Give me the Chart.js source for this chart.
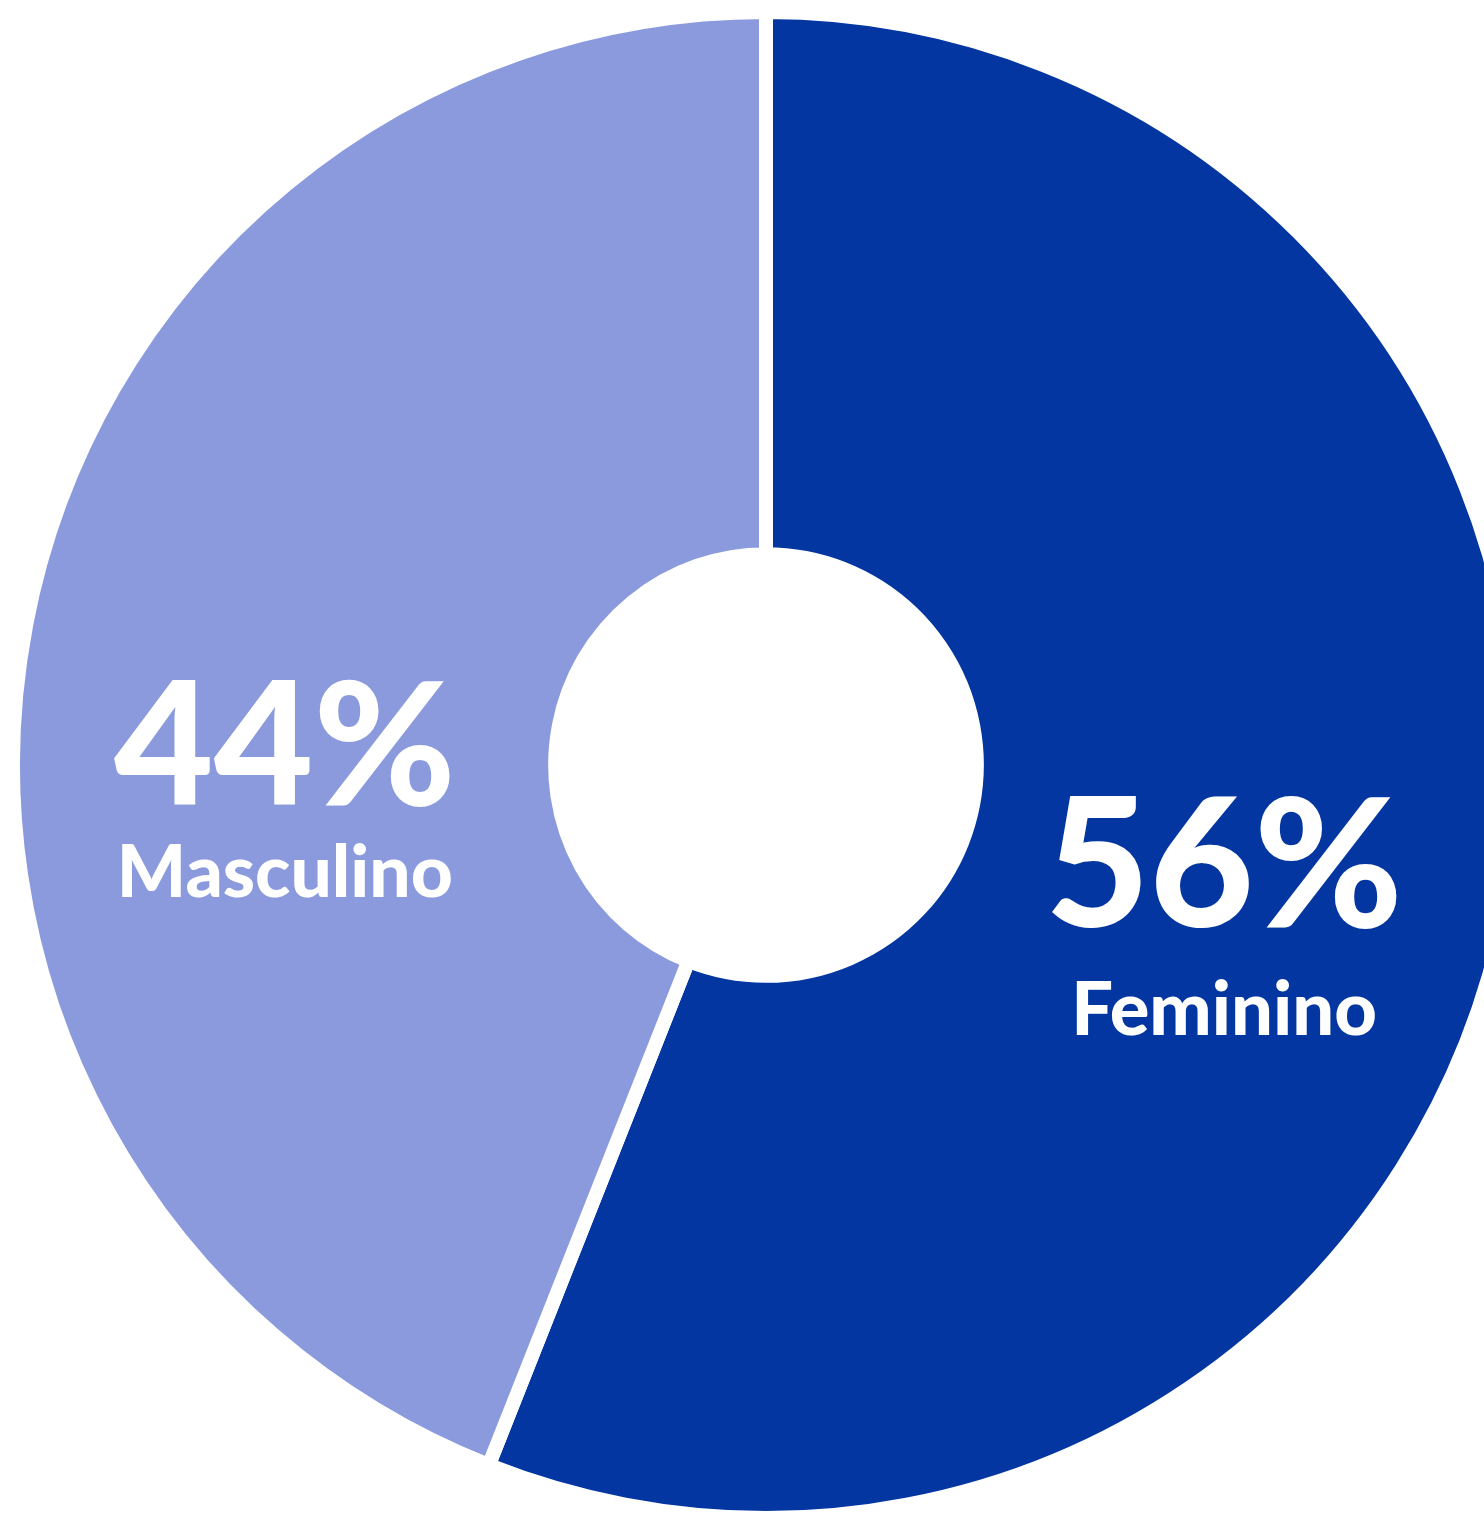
<!DOCTYPE html>
<html>
<head>
<meta charset="utf-8">
<script src="https://cdn.jsdelivr.net/npm/chart.js@4.4.0/dist/chart.umd.min.js"></script>
<style>
    html, body { margin: 0; padding: 0; background: #ffffff; overflow: hidden; }
    body { width: 1484px; height: 1519px; position: relative; }
    #wrap { position: absolute; left: 6px; top: 5px; width: 1520px; height: 1520px; }
</style>
</head>
<body>
<div id="wrap"><canvas id="pieChart"></canvas></div>
<script>
// Data
const categories = ['Feminino', 'Masculino'];
const shares = [56, 44];
const sliceColors = ['#0336a0', '#8a9add'];

// where each label sits, relative to the centre, in units of the visible radius
const labelAnchor = [[0.614, 0.217], [-0.645, 0.054]];
const percentSize = [180, 172];
const nameSize = [74, 73];
const nameGap = [108, 92];

// Plugin that writes the big percentage and the name inside each slice
const sliceLabels = {
    id: 'sliceLabels',
    afterDatasetsDraw: function (chart) {
        var ctx = chart.ctx;
        var meta = chart.getDatasetMeta(0);
        meta.data.forEach(function (arc, i) {
            var p = arc.getProps(['x', 'y', 'outerRadius'], true);
            var r = p.outerRadius - 7;
            var x = p.x + labelAnchor[i][0] * r;
            var y = p.y + labelAnchor[i][1] * r;
            ctx.save();
            ctx.fillStyle = '#ffffff';
            ctx.textAlign = 'center';
            ctx.textBaseline = 'alphabetic';
            ctx.font = '900 ' + percentSize[i] + 'px Lato';
            ctx.fillText(shares[i] + '%', x, y);
            ctx.font = '900 ' + nameSize[i] + 'px Lato';
            ctx.fillText(categories[i], x, y + nameGap[i]);
            ctx.restore();
        });
    }
};

function createPieChart() {
    var ctx = document.getElementById('pieChart').getContext('2d');
    new Chart(ctx, {
        type: 'doughnut',
        data: {
            labels: categories,
            datasets: [{
                data: shares,
                backgroundColor: sliceColors,
                borderColor: '#ffffff',
                borderWidth: 14,
                hoverBorderWidth: 14,
                borderJoinStyle: 'miter'
            }]
        },
        options: {
            responsive: true,
            maintainAspectRatio: false,
            animation: false,
            cutout: '28%',
            layout: { padding: 0 },
            plugins: {
                legend: { display: false },
                tooltip: { enabled: false }
            }
        },
        plugins: [sliceLabels]
    });
}

createPieChart();
</script>
</body>
</html>
